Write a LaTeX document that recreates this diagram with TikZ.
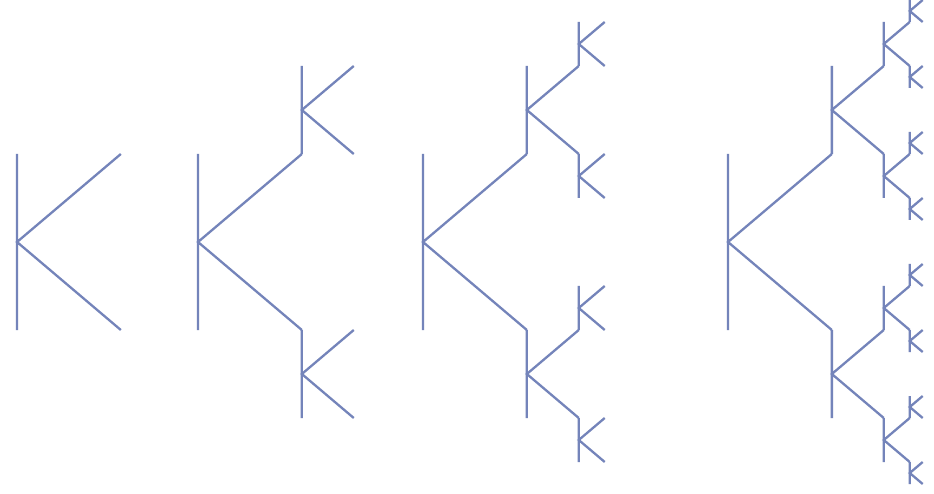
\documentclass[tikz,border=0pt]{standalone}
\usetikzlibrary{calc}
\definecolor{kline}{RGB}{116,132,186}
\newcommand\kd{1.18}
\newcommand\kfrac[4]{%
  \draw[kstroke] (#1,{#2-#3}) -- (#1,{#2+#3})
    ({#1+\kd*#3},{#2-#3}) -- (#1,#2) -- ({#1+\kd*#3},{#2+#3});
  \ifnum#4>0
    \begingroup
    \pgfmathsetmacro\kx{#1+\kd*#3}%
    \pgfmathsetmacro\kya{#2-1.5*#3}%
    \pgfmathsetmacro\kyb{#2+1.5*#3}%
    \pgfmathsetmacro\kl{#3/2}%
    \pgfmathtruncatemacro\kn{#4-1}%
    \edef\knext{\noexpand\kfrac{\kx}{\kya}{\kl}{\kn}\noexpand\kfrac{\kx}{\kyb}{\kl}{\kn}}%
    \knext
    \endgroup
  \fi}
\begin{document}
\begin{tikzpicture}[x=1pt,y=-1pt,
  kstroke/.style={draw=kline,line width=2.3pt,line join=miter,line cap=butt}]
\useasboundingbox[fill=white] (0,0) rectangle (934,494);
\kfrac{17}{242}{88}{0}
\kfrac{198}{242}{88}{1}
\kfrac{423}{242}{88}{2}
\kfrac{728}{242}{88}{3}
\end{tikzpicture}
\end{document}
